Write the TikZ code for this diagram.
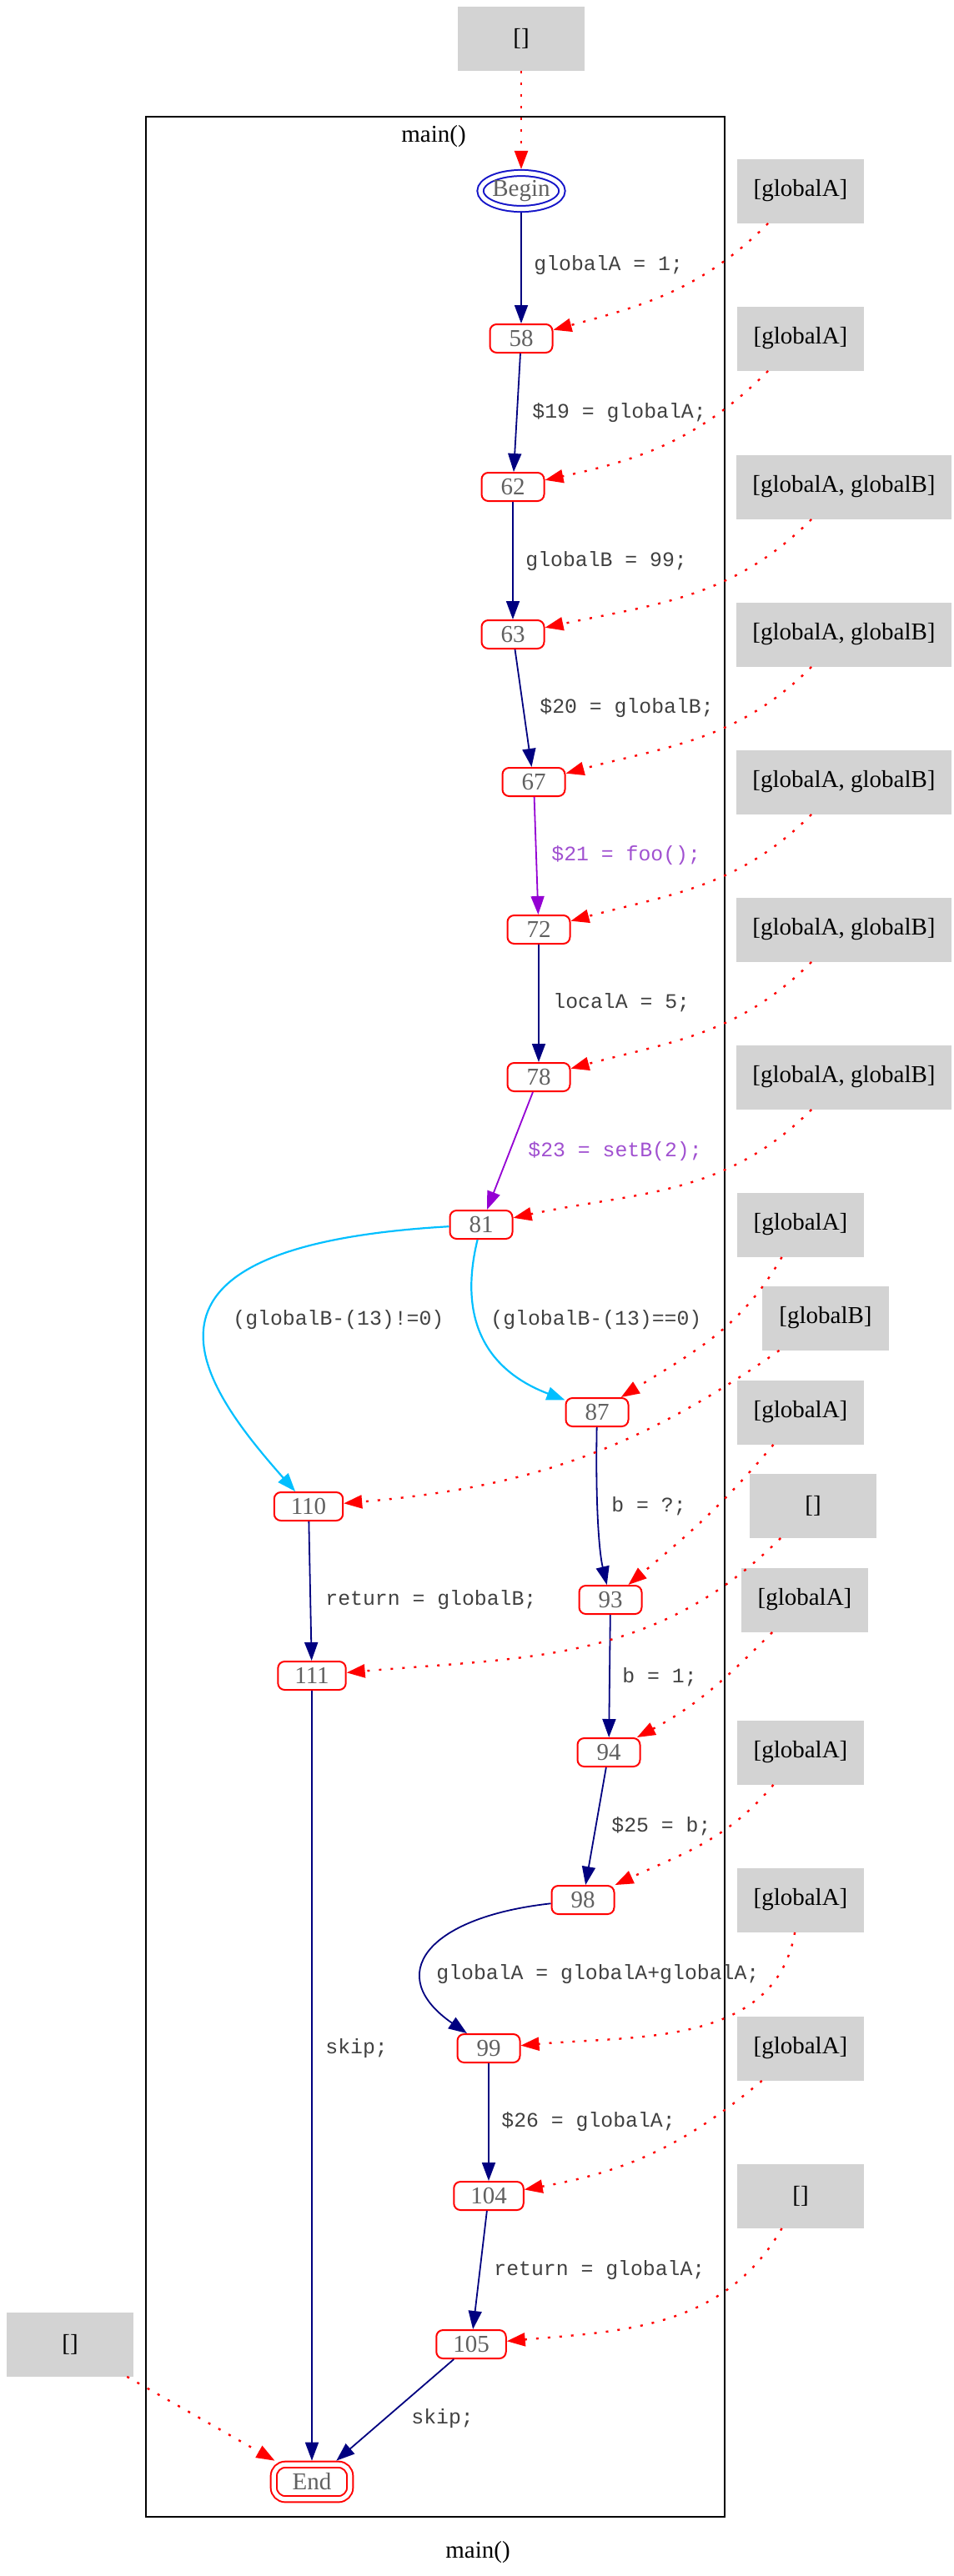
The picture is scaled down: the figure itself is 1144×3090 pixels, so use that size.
\documentclass[tikz,border=0pt]{standalone}
\usepackage{fontspec}
\setmainfont{Liberation Serif}
\setmonofont{Liberation Mono}
\usepackage{tikz}
\usetikzlibrary{positioning,arrows.meta,shapes.geometric}

\definecolor{edgenavy}{HTML}{000080}
\definecolor{callviolet}{HTML}{9400D3}
\definecolor{calltext}{HTML}{A050D0}
\definecolor{branchsky}{HTML}{00BFFF}
\definecolor{nodegray}{HTML}{606060}
\definecolor{boxgray}{HTML}{D3D3D3}
\definecolor{beginblue}{HTML}{1414C8}

\begin{document}
\begin{tikzpicture}[
            x=0.5pt, y=0.5pt,
            % Style of a CFG node: red rounded box
            cfgnode/.style={
                draw=red,
                line width=1pt,
                rounded corners=4pt,
                minimum width=37.5pt,
                minimum height=17pt,
                inner xsep=10pt,
                inner ysep=0pt,
                text=nodegray,
                font=\fontsize{14.5}{17}\selectfont
            },
            % Style of the entry node
            beginnode/.style={
                ellipse,
                draw=beginblue,
                double, double distance=2.6pt,
                line width=1pt,
                minimum width=42.75pt,
                minimum height=21.5pt,
                inner sep=0pt,
                outer sep=2.3pt,
                text=nodegray,
                font=\fontsize{14.5}{17}\selectfont
            },
            % Style of the exit node
            endnode/.style={
                draw=red,
                double, double distance=2.6pt,
                line width=1pt,
                rounded corners=7pt,
                minimum width=45.75pt,
                minimum height=20.75pt,
                inner sep=0pt,
                outer sep=2.3pt,
                text=nodegray,
                font=\fontsize{14.5}{17}\selectfont
            },
            % Style of the gray variable sets
            setbox/.style={
                fill=boxgray,
                minimum width=76pt,
                minimum height=38.5pt,
                inner xsep=9.5pt,
                font=\fontsize{14.5}{17}\selectfont
            },
            % Style of the statement labels
            stmt/.style={
                anchor=west,
                inner sep=0pt,
                text=black!75,
                font=\ttfamily\fontsize{12.4}{14}\selectfont
            },
            callstmt/.style={stmt, text=calltext},
            title/.style={font=\fontsize{14.5}{17}\selectfont},
            % Edge styles
            flow/.style={draw=edgenavy, line width=0.9pt, -{Triangle[length=11pt,width=8pt]}},
            callflow/.style={flow, draw=callviolet},
            branch/.style={flow, draw=branchsky, line width=1.1pt},
            dep/.style={draw=red, line width=1.2pt, dash pattern=on 1.5pt off 5.5pt, -{Triangle[length=11pt,width=8pt]}}
        ]
            \useasboundingbox (0,0) rectangle (1144,-3090);

            % --- CLUSTER main() ---
            \coordinate (clNW) at (175,-140);
            \coordinate (clSE) at (869,-3019);
            \draw[line width=1pt] (clNW) rectangle (clSE);
            \node[title] (maintop) at (520,-164) {main()};
            \node[title] (mainbot) at (573,-3061) {main()};

            % --- CFG NODES ---
            \node[beginnode] (nbegin) at (625,-229) {Begin};
            \node[cfgnode] (n58) at (625,-406) {58};
            \node[cfgnode] (n62) at (615,-584) {62};
            \node[cfgnode] (n63) at (615,-761) {63};
            \node[cfgnode] (n67) at (640,-938) {67};
            \node[cfgnode] (n72) at (646,-1115) {72};
            \node[cfgnode] (n78) at (646,-1292) {78};
            \node[cfgnode] (n81) at (577,-1469) {81};
            \node[cfgnode] (n87) at (716,-1694) {87};
            \node[cfgnode] (n110) at (370,-1807) {110};
            \node[cfgnode] (n93) at (732,-1919) {93};
            \node[cfgnode] (n111) at (374,-2010) {111};
            \node[cfgnode] (n94) at (730,-2102) {94};
            \node[cfgnode] (n98) at (699,-2279) {98};
            \node[cfgnode] (n99) at (586,-2457) {99};
            \node[cfgnode] (n104) at (586,-2634) {104};
            \node[cfgnode] (n105) at (565,-2812) {105};
            \node[endnode] (nend) at (374,-2977) {End};

            % --- VARIABLE SETS ---
            \node[setbox] (bbegin) at (625,-46) {[]};
            \node[setbox] (b58) at (960,-229) {[globalA]};
            \node[setbox] (b62) at (960,-406) {[globalA]};
            \node[setbox] (b63) at (1012,-584) {[globalA, globalB]};
            \node[setbox] (b67) at (1012,-761) {[globalA, globalB]};
            \node[setbox] (b72) at (1012,-938) {[globalA, globalB]};
            \node[setbox] (b78) at (1012,-1115) {[globalA, globalB]};
            \node[setbox] (b81) at (1012,-1292) {[globalA, globalB]};
            \node[setbox] (b87) at (960,-1469) {[globalA]};
            \node[setbox] (b110) at (990,-1581) {[globalB]};
            \node[setbox] (b93) at (960,-1694) {[globalA]};
            \node[setbox] (b111) at (975,-1806) {[]};
            \node[setbox] (b94) at (965,-1919) {[globalA]};
            \node[setbox] (b98) at (960,-2102) {[globalA]};
            \node[setbox] (b99) at (960,-2279) {[globalA]};
            \node[setbox] (b104) at (960,-2457) {[globalA]};
            \node[setbox] (b105) at (960,-2634) {[]};
            \node[setbox] (bend) at (84,-2812) {[]};

            % --- STATEMENTS ---
            \node[stmt] (l58) at (640,-318) {globalA = 1;};
            \node[stmt] (l62) at (638,-495) {\$19 = globalA;};
            \node[stmt] (l63) at (630,-673) {globalB = 99;};
            \node[stmt] (l67) at (647,-849) {\$20 = globalB;};
            \node[callstmt] (l72) at (661,-1026) {\$21 = foo();};
            \node[stmt] (l78) at (663,-1203) {localA = 5;};
            \node[callstmt] (l81) at (633,-1381) {\$23 = setB(2);};
            \node[stmt] (l110) at (279,-1583) {(globalB-(13)!=0)};
            \node[stmt] (l87) at (588,-1583) {(globalB-(13)==0)};
            \node[stmt] (l93) at (733,-1807) {b = ?;};
            \node[stmt] (l111) at (390,-1919) {return = globalB;};
            \node[stmt] (l94) at (746,-2012) {b = 1;};
            \node[stmt] (l98) at (733,-2191) {\$25 = b;};
            \node[stmt] (l99) at (523,-2368) {globalA = globalA+globalA;};
            \node[stmt] (l104) at (601,-2545) {\$26 = globalA;};
            \node[stmt] (l105) at (592,-2723) {return = globalA;};
            \node[stmt] (lskipa) at (390,-2457) {skip;};
            \node[stmt] (lskipb) at (493,-2901) {skip;};

            % --- CONTROL FLOW ---
            \draw[flow] (nbegin) -- (n58);
            \draw[flow] (n58) -- (n62);
            \draw[flow] (n62) -- (n63);
            \draw[flow] (n63) -- (n67);
            \draw[callflow] (n67) -- (n72);
            \draw[flow] (n72) -- (n78);
            \draw[callflow] (n78) -- (n81);
            \draw[branch] (n81) .. controls (120,-1495) and (240,-1660) .. (n110);
            \draw[branch] (n81) .. controls (545,-1600) and (600,-1650) .. (n87);
            \draw[flow] (n87) .. controls (714,-1800) and (718,-1860) .. (n93);
            \draw[flow] (n110) -- (n111);
            \draw[flow] (n93) -- (n94);
            \draw[flow] (n94) -- (n98);
            \draw[flow] (n98) .. controls (510,-2300) and (460,-2370) .. (n99);
            \draw[flow] (n99) -- (n104);
            \draw[flow] (n104) -- (n105);
            \draw[flow] (n111) -- (nend);
            \draw[flow] (n105) -- (nend);

            % --- DEPENDENCIES ---
            \draw[dep] (bbegin) -- (nbegin);
            \draw[dep] (b58) to[out=225, in=15] (n58);
            \draw[dep] (b62) to[out=225, in=12] (n62);
            \draw[dep] (b63) to[out=225, in=12] (n63);
            \draw[dep] (b67) to[out=225, in=15] (n67);
            \draw[dep] (b72) to[out=225, in=15] (n72);
            \draw[dep] (b78) to[out=225, in=15] (n78);
            \draw[dep] (b81) to[out=225, in=12] (n81);
            \draw[dep] (b87) to[out=240, in=32] (n87);
            \draw[dep] (b110) to[out=215, in=5] (n110);
            \draw[dep] (b93) to[out=230, in=40] (n93);
            \draw[dep] (b111) to[out=225, in=5] (n111);
            \draw[dep] (b94) to[out=225, in=28] (n94);
            \draw[dep] (b98) to[out=230, in=25] (n98);
            \draw[dep] (b99) to[out=260, in=5] (n99);
            \draw[dep] (b104) to[out=220, in=10] (n104);
            \draw[dep] (b105) to[out=240, in=5] (n105);
            \draw[dep] (bend) -- (nend);

        \end{tikzpicture}
\end{document}
